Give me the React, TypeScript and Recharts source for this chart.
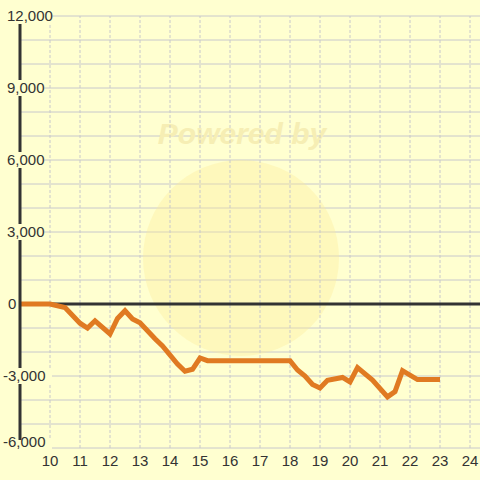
import {
  LineChart,
  Line,
  XAxis,
  YAxis,
  CartesianGrid,
  ReferenceLine,
  Customized,
} from "recharts";

// hour of day
const hours = [
  9, 10, 10.5, 11, 11.25, 11.5, 12, 12.25, 12.5, 12.75, 13, 13.5, 13.75, 14.25,
  14.5, 14.75, 15, 15.25, 18, 18.25, 18.5, 18.75, 19, 19.25, 19.75, 20, 20.25,
  20.75, 21.25, 21.5, 21.75, 22.25, 23,
];
// cumulative value
const values = [
  0, 0, -150, -800, -1000, -700, -1250, -600, -280, -620, -780, -1450, -1750,
  -2500, -2800, -2720, -2250, -2360, -2360, -2750, -3000, -3350, -3500, -3180,
  -3060, -3250, -2650, -3170, -3870, -3650, -2780, -3150, -3150,
];
const xTicks = [10, 11, 12, 13, 14, 15, 16, 17, 18, 19, 20, 21, 22, 23, 24];
const yTicks = [
  -6000, -5000, -4000, -3000, -2000, -1000, 0, 1000, 2000, 3000, 4000, 5000,
  6000, 7000, 8000, 9000, 10000, 11000, 12000,
];

const data = hours.map((h, i) => ({ h, v: values[i] }));

const BG = "#ffffd0";
const GRID = "#c8c8cc";
const FONT = "Liberation Sans, Arial, sans-serif";

const YTick = ({ y, payload }: any) => {
  const v = payload.value;
  if (v % 3000 !== 0) return null;
  const label = v.toLocaleString("en-US");
  const tx = v < 0 ? 3 : v === 0 ? 8 : 7;
  return (
    <g>
      <rect x={2} y={y - 8} width={label.length * 8 + 2} height={16} fill={BG} />
      <text x={tx} y={v === -6000 ? y - 1 : y + 5} fontSize={15} fill="#333" fontFamily={FONT}>
        {label}
      </text>
    </g>
  );
};

const XTick = ({ x, y, payload }: any) => (
  <text x={x} y={y + 10} textAnchor="middle" fontSize={15} fill="#333" fontFamily={FONT}>
    {payload.value}
  </text>
);

const Watermark = () => (
  <g>
    <circle cx={241} cy={258} r={98} fill="#fbec98" opacity={0.35} />
    <text
      x={242}
      y={144}
      textAnchor="middle"
      fontSize={30}
      fontWeight="bold"
      fontStyle="italic"
      fill="#f6eeb4"
      fontFamily={FONT}
    >
      Powered by
    </text>
  </g>
);

export default function App() {
  return (
    <div style={{ position: "absolute", left: 0, top: 0, width: 480, height: 480, background: BG }}>
      <LineChart
        width={480}
        height={480}
        data={data}
        margin={{ top: 16, right: 0, left: 0, bottom: 0 }}
      >
        <Customized component={Watermark} />
        <CartesianGrid stroke={GRID} vertical={false} />
        {xTicks.map((t) => (
          <ReferenceLine key={t} x={t} stroke={GRID} strokeDasharray="3 2" />
        ))}
        <XAxis
          dataKey="h"
          type="number"
          domain={[9, 24.3333]}
          ticks={xTicks}
          height={32}
          axisLine={false}
          tickLine={false}
          tick={<XTick />}
          interval={0}
          allowDataOverflow
        />
        <ReferenceLine y={0} stroke="#333" strokeWidth={3} />
        <Line
          dataKey="v"
          stroke="#e07a22"
          strokeWidth={5}
          dot={false}
          type="linear"
          isAnimationActive={false}
        />
        <YAxis
          type="number"
          domain={[-6000, 12000]}
          ticks={yTicks}
          width={20}
          axisLine={{ stroke: "#333", strokeWidth: 3 }}
          tickLine={false}
          tick={<YTick />}
          interval={0}
        />
      </LineChart>
    </div>
  );
}
